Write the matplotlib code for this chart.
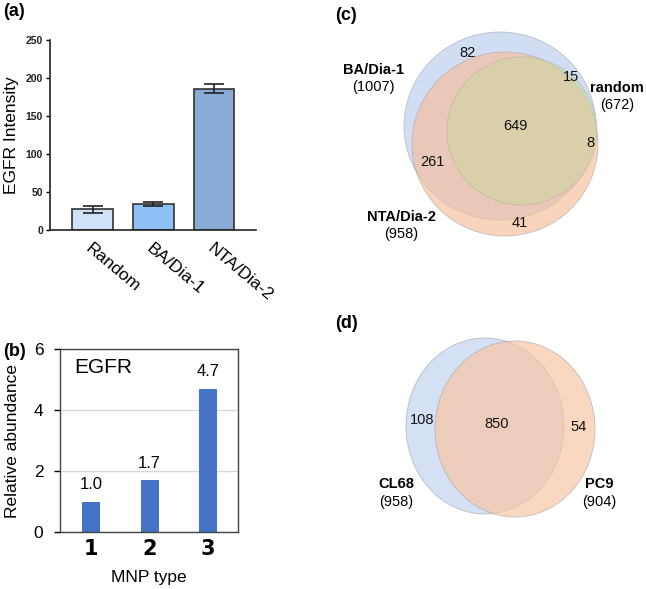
import matplotlib
matplotlib.use("Agg")
import matplotlib.pyplot as plt
from matplotlib.patches import Ellipse
import numpy as np

plt.rcParams['font.family'] = ['Liberation Sans', 'DejaVu Sans']

# ---------------- data ----------------
a_categories = ["Random", "BA/Dia-1", "NTA/Dia-2"]
a_values = [27, 34, 186]
a_errors = [5, 3, 5.5]
a_yticks = [0, 50, 100, 150, 200, 250]

b_categories = ["1", "2", "3"]
b_values = [1.0, 1.7, 4.7]
b_yticks = [0, 2, 4, 6]

c_sets = ["BA/Dia-1", "NTA/Dia-2", "random"]
c_set_sizes = [1007, 958, 672]
c_region_counts = {"BA_only": 82, "BA_random": 15, "all": 649, "NTA_random": 8,
                   "BA_NTA": 261, "NTA_only": 41}

d_sets = ["CL68", "PC9"]
d_set_sizes = [958, 904]
d_region_counts = {"CL68_only": 108, "both": 850, "PC9_only": 54}

W, H = 646, 589
fig = plt.figure(figsize=(W / 100, H / 100), dpi=100)


def ax_rect(l, t, r, b):
    return [l / W, 1 - b / H, (r - l) / W, (b - t) / H]


# ---------------- panel (a) ----------------
ax = fig.add_axes(ax_rect(50, 40, 256, 230))
a_colors = ["#cfe2f8", "#8fc0f6", "#8aabd6"]
x = np.arange(len(a_categories))
ax.bar(x, a_values, width=0.67, color=a_colors, edgecolor="#333333", linewidth=1.2, zorder=2)
ax.errorbar(x, a_values, yerr=a_errors, fmt="none", ecolor="#222222", elinewidth=1.2,
            capsize=7, capthick=1.2, zorder=3)
ax.set_xlim(-0.70, 2.69)
ax.set_ylim(0, 250)
ax.set_yticks(a_yticks)
ax.set_yticklabels([str(v) for v in a_yticks], fontsize=7.5, fontweight="bold", color="#222222")
ax.set_xticks(x)
ax.set_xticklabels(a_categories, rotation=-40, ha="left", va="top", rotation_mode="anchor",
                   fontsize=12.5)
ax.tick_params(axis="x", length=0, pad=8)
ax.tick_params(axis="y", length=3, width=1, pad=2)
for s in ["top", "right"]:
    ax.spines[s].set_visible(False)
for s in ["left", "bottom"]:
    ax.spines[s].set_linewidth(1.2)
    ax.spines[s].set_color("#222222")
ax.set_ylabel("EGFR Intensity", fontsize=12.5, labelpad=5)

# ---------------- panel (b) ----------------
axb = fig.add_axes(ax_rect(60, 349, 238, 532))
xb = np.arange(len(b_categories))
axb.bar(xb, b_values, width=0.31, color="#4472c4", zorder=2)
for xi, v in zip(xb, b_values):
    axb.text(xi, v + 0.3, f"{v:.1f}", ha="center", va="bottom", fontsize=12)
axb.set_xlim(-0.53, 2.51)
axb.set_ylim(0, 6)
axb.set_yticks(b_yticks)
axb.set_yticklabels([str(v) for v in b_yticks], fontsize=12.5)
axb.yaxis.grid(True, color="#d9d9d9", linewidth=1, zorder=0)
axb.set_axisbelow(True)
axb.set_xticks(xb)
axb.set_xticklabels(b_categories, fontsize=15, fontweight="bold",
                    family=["DejaVu Sans"])
axb.tick_params(axis="x", length=0, pad=5)
axb.tick_params(axis="y", length=4, width=1, pad=8)
for s in axb.spines.values():
    s.set_linewidth(1.0)
    s.set_color("#444444")
axb.set_xlabel("MNP type", fontsize=12.5, labelpad=8)
axb.set_ylabel("Relative abundance", fontsize=12.5, labelpad=10)
axb.text(0.08, 0.9, "EGFR", transform=axb.transAxes, fontsize=15, ha="left", va="center")

# ---------------- overlay axes for venns and panel labels ----------------
ov = fig.add_axes([0, 0, 1, 1])
ov.set_xlim(0, W)
ov.set_ylim(H, 0)
ov.axis("off")

for lbl, (px, py) in zip(["(a)", "(b)", "(c)", "(d)"],
                         [(3, 11), (3, 352), (335, 15), (335, 324)]):
    ov.text(px, py, lbl, fontsize=13, fontweight="bold", ha="left", va="center")

# Venn (c)
c_geom = {"BA/Dia-1": (500, 126, 96, 94, "#b7cbee", 0.65, 0),
          "NTA/Dia-2": (505, 144, 93, 92, "#f7bd9a", 0.65, 1),
          "random": (522, 131, 75, 74, "#cbd89b", 0.5, 2)}
for name in c_sets:
    cx, cy, rx, ry, col, al, z = c_geom[name]
    ov.add_patch(Ellipse((cx, cy), 2 * rx, 2 * ry, facecolor=col, alpha=al,
                         edgecolor="#a8a8a8", linewidth=0.6, zorder=z))
c_pos = {"BA_only": (468, 53), "BA_random": (571, 77), "all": (515, 126),
         "NTA_random": (590, 143), "BA_NTA": (432, 162), "NTA_only": (520, 223)}
for k, v in c_region_counts.items():
    ov.text(*c_pos[k], str(v), fontsize=10.5, ha="center", va="center", color="#111111",
            zorder=5)
c_lab_pos = {"BA/Dia-1": (373, 70), "NTA/Dia-2": (401, 217), "random": (617, 88)}
for name, size in zip(c_sets, c_set_sizes):
    lx, ly = c_lab_pos[name]
    ov.text(lx, ly, name, fontsize=10.5, fontweight="bold", ha="center", va="center", zorder=5)
    ov.text(lx, ly + 17, f"({size})", fontsize=10.5, ha="center", va="center", zorder=5)

# Venn (d)
d_geom = {"CL68": (485, 426, 79, 88, "#c3d3ef", 0.7),
          "PC9": (515, 429, 80, 88, "#f8c4a1", 0.67)}
for name in d_sets:
    cx, cy, rx, ry, col, al = d_geom[name]
    ov.add_patch(Ellipse((cx, cy), 2 * rx, 2 * ry, facecolor=col, alpha=al,
                         edgecolor="#a8a8a8", linewidth=0.6))
d_pos = {"CL68_only": (422, 420), "both": (497, 424), "PC9_only": (579, 427)}
for k, v in d_region_counts.items():
    ov.text(*d_pos[k], str(v), fontsize=10.5, ha="center", va="center", color="#111111",
            zorder=5)
d_lab_pos = {"CL68": (396, 484), "PC9": (599, 484)}
for name, size in zip(d_sets, d_set_sizes):
    lx, ly = d_lab_pos[name]
    ov.text(lx, ly, name, fontsize=10.5, fontweight="bold", ha="center", va="center", zorder=5)
    ov.text(lx, ly + 18, f"({size})", fontsize=10.5, ha="center", va="center", zorder=5)

fig.savefig("out.png", dpi=100)
